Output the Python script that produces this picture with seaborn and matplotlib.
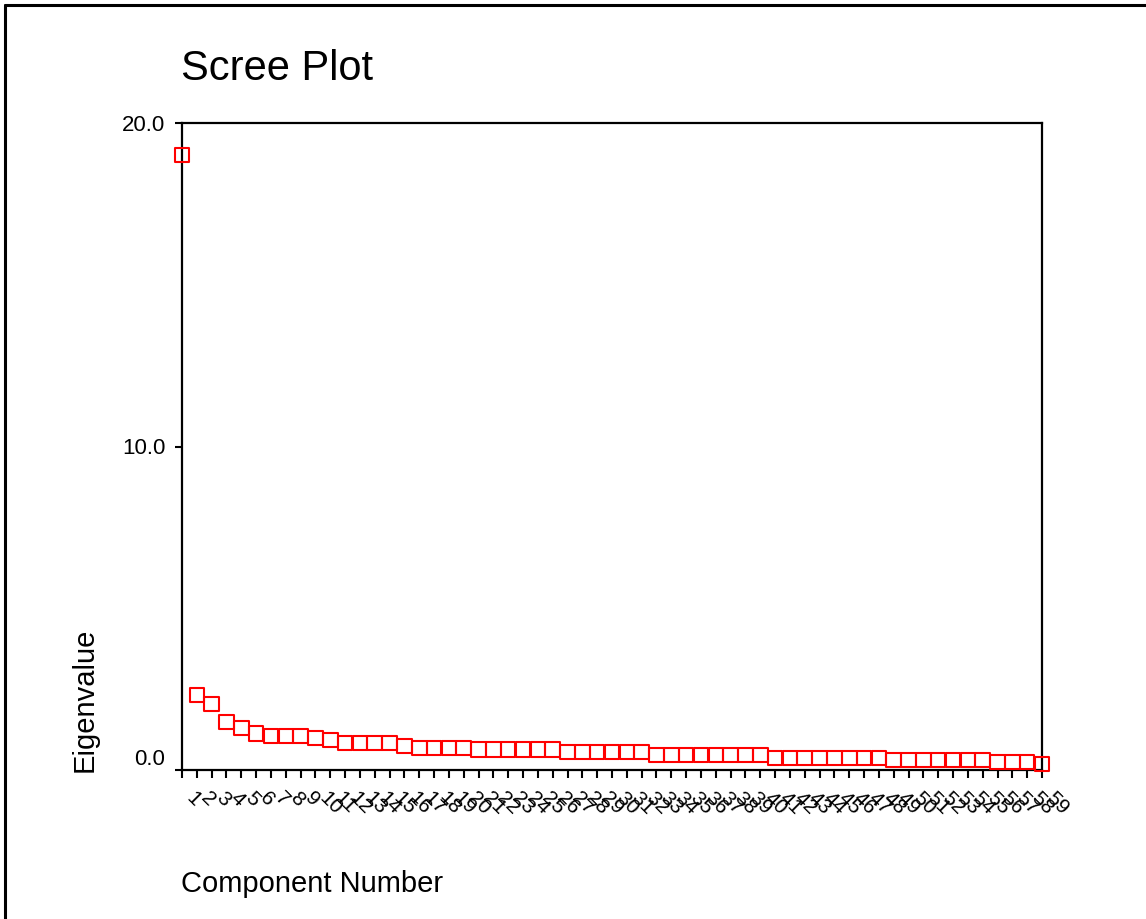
import matplotlib
matplotlib.use("Agg")
import matplotlib.pyplot as plt
import matplotlib.transforms as mtransforms
from matplotlib.lines import Line2D
import seaborn as sns
import pandas as pd

# ---- data ----
components = list(range(1, 60))
eigenvalues = [
    19.01, 2.32, 2.04, 1.48, 1.30, 1.12, 1.05, 1.05, 1.05, 0.99,
    0.93, 0.83, 0.83, 0.83, 0.83, 0.74, 0.68, 0.68, 0.68, 0.68,
    0.63, 0.63, 0.63, 0.63, 0.63, 0.63, 0.56, 0.56, 0.56, 0.56,
    0.56, 0.56, 0.46, 0.46, 0.46, 0.46, 0.46, 0.46, 0.46, 0.46,
    0.37, 0.37, 0.37, 0.37, 0.37, 0.37, 0.37, 0.37, 0.31, 0.31,
    0.31, 0.31, 0.31, 0.31, 0.31, 0.25, 0.25, 0.25, 0.19,
]
x_tick_labels = [str(c) for c in components]
y_ticks = [0, 10, 20]
y_tick_labels = ["0.0", "10.0", "20.0"]
title_text = "Scree Plot"
x_title = "Component Number"
y_title = "Eigenvalue"

sns.set_style("white")
plt.rcParams["font.family"] = ["Liberation Sans", "DejaVu Sans"]
plt.rcParams["text.color"] = "black"
plt.rcParams["axes.labelcolor"] = "black"
plt.rcParams["xtick.color"] = "black"
plt.rcParams["ytick.color"] = "black"

df = pd.DataFrame({"Component Number": components, "Eigenvalue": eigenvalues})

fig = plt.figure(figsize=(11.46, 9.19), dpi=100)
ax = fig.add_axes([182 / 1146, 1 - 770 / 919, (1042 - 182) / 1146, (770 - 123) / 919])

sns.scatterplot(data=df, x="Component Number", y="Eigenvalue", marker="s", s=110,
                ax=ax, clip_on=False, zorder=5, legend=False)
coll = ax.collections[0]
coll.set_facecolor("none")
coll.set_edgecolor("#ff0000")
coll.set_linewidth(1.5)

ax.set_xlim(1, 59)
ax.set_ylim(0, 20)
for sp in ax.spines.values():
    sp.set_visible(True)
    sp.set_color("black")
    sp.set_linewidth(1.6)

ax.tick_params(axis="x", direction="out", length=6, width=1.5, pad=12, labelsize=15,
               bottom=True, colors="black")
ax.tick_params(axis="y", direction="out", length=5, width=1.5, pad=7, labelsize=16,
               left=True, colors="black")
ax.set_yticks(y_ticks)
ax.set_yticklabels(y_tick_labels)
ax.set_xticks(components)
ax.set_xticklabels(x_tick_labels)

offset = mtransforms.ScaledTranslation(7 / 100, 0, fig.dpi_scale_trans)
for lbl in ax.get_xticklabels():
    lbl.set_rotation(-45)
    lbl.set_rotation_mode("anchor")
    lbl.set_ha("left")
    lbl.set_va("center")
    lbl.set_transform(lbl.get_transform() + offset)
ax.get_yticklabels()[0].set_va("bottom")

ax.set_xlabel("")
ax.set_ylabel("")

fig.text(181 / 1146, 1 - 80 / 919, title_text, fontsize=30, ha="left", va="baseline")
fig.text(181 / 1146, 1 - 892 / 919, x_title, fontsize=21, ha="left", va="baseline")
fig.text(93 / 1146, 1 - 772 / 919, y_title, fontsize=21, rotation=90,
         rotation_mode="anchor", ha="left", va="baseline")

# outer frame (top and left edges visible in the reference)
fig.add_artist(Line2D([5 / 1146, 5 / 1146], [0, 1 - 5 / 919], transform=fig.transFigure,
                      color="black", linewidth=2.2))
fig.add_artist(Line2D([5 / 1146, 1], [1 - 5 / 919, 1 - 5 / 919], transform=fig.transFigure,
                      color="black", linewidth=2.2))

fig.savefig("out.png", dpi=100)
